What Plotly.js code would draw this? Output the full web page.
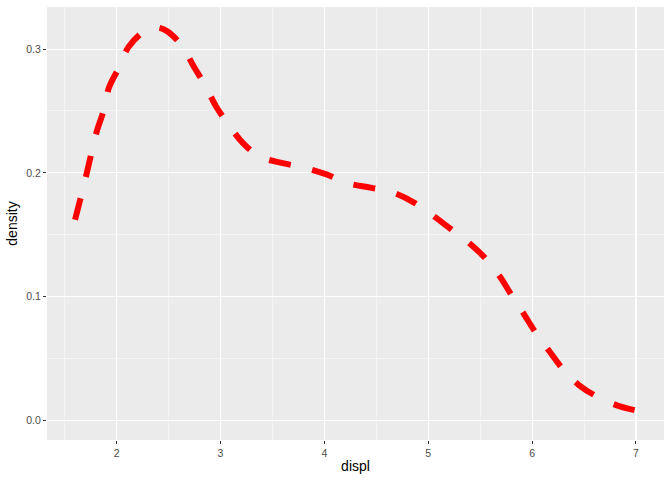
<!DOCTYPE html>
<html>
<head>
<meta charset="utf-8">
<script src="https://cdn.plot.ly/plotly-3.0.1.min.js"></script>
<style>html,body{margin:0;padding:0;background:#fff;}#chart{width:672px;height:480px;}</style>
</head>
<body>
<div id="chart"></div>
<script>
// Density estimate of displ
var displ = [1.6, 1.708, 1.756, 1.81, 1.878, 1.926, 2.022, 2.118, 2.27, 2.38, 2.485, 2.633, 2.743, 2.853, 2.958, 3.076, 3.217, 3.377, 3.6, 3.81, 4.02, 4.219, 4.444, 4.646, 4.855, 5.03, 5.215, 5.384, 5.545, 5.683, 5.8, 5.92, 6.037, 6.165, 6.3, 6.454, 6.646, 6.846, 7.0];
var density = [0.162, 0.198, 0.2154, 0.2337, 0.251, 0.2687, 0.2849, 0.3021, 0.3145, 0.3175, 0.3145, 0.3021, 0.2859, 0.2706, 0.2536, 0.2391, 0.224, 0.2132, 0.2078, 0.2041, 0.1987, 0.1917, 0.188, 0.1845, 0.1764, 0.1664, 0.1548, 0.144, 0.1314, 0.117, 0.1015, 0.086, 0.0705, 0.056, 0.041, 0.0283, 0.0183, 0.0113, 0.008];
var xTicks = [2, 3, 4, 5, 6, 7];
var yTicks = [0.0, 0.1, 0.2, 0.3];
var yTickText = ['0.0', '0.1', '0.2', '0.3'];

var trace = {
  x: displ, y: density, type: 'scatter', mode: 'lines',
  line: {color: '#FF0000', width: 6, dash: '22px,22px', shape: 'spline', smoothing: 1},
  hoverinfo: 'none'
};
var axisCommon = {
  showgrid: true, gridcolor: '#FFFFFF', gridwidth: 1.1,
  zeroline: false, showline: false,
  ticks: 'outside', ticklen: 3, tickwidth: 1, tickcolor: '#333333',
  tickfont: {family: 'Liberation Sans, Arial, sans-serif', size: 10.5, color: '#4D4D4D'},
};
var layout = {
  width: 672, height: 480,
  margin: {l: 47, r: 8, t: 7, b: 40},
  paper_bgcolor: '#FFFFFF', plot_bgcolor: '#EBEBEB',
  showlegend: false,
  xaxis: Object.assign({}, axisCommon, {
    range: [1.33, 7.27], tickmode: 'array', tickvals: xTicks, ticktext: xTicks.map(String),
    minor: {tickmode: 'array', tickvals: [1.5, 2.5, 3.5, 4.5, 5.5, 6.5], showgrid: true, gridcolor: '#FFFFFF', gridwidth: 0.5, ticks: ''},
    title: {text: 'displ', font: {family: 'Liberation Sans, Arial, sans-serif', size: 14, color: '#000000'}, standoff: 3}
  }),
  yaxis: Object.assign({}, axisCommon, {
    range: [-0.0159, 0.334], tickmode: 'array', tickvals: yTicks, ticktext: yTickText,
    minor: {tickmode: 'array', tickvals: [0.05, 0.15, 0.25], showgrid: true, gridcolor: '#FFFFFF', gridwidth: 0.5, ticks: ''},
    title: {text: 'density', font: {family: 'Liberation Sans, Arial, sans-serif', size: 14, color: '#000000'}, standoff: 5}
  })
};
Plotly.newPlot('chart', [trace], layout, {staticPlot: true, displayModeBar: false});
</script>
</body>
</html>
